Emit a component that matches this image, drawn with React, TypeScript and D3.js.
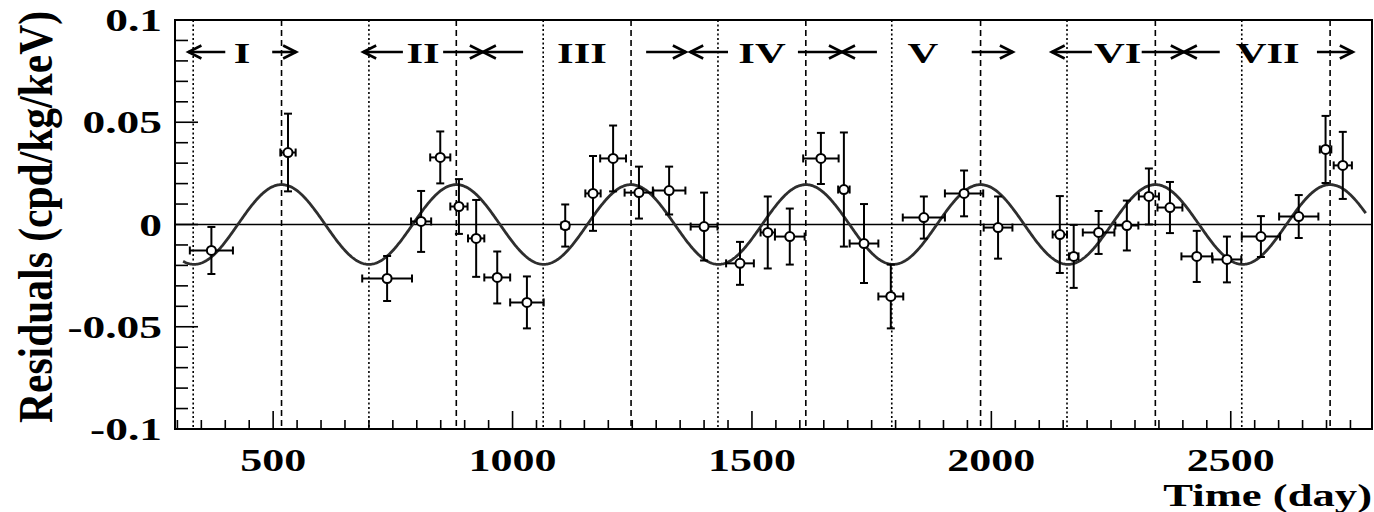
import React from "react";
import * as d3 from "d3";

// ---- data ----
const days = [371, 531, 738, 809, 849, 888, 924, 968, 1030, 1110, 1168, 1210, 1264, 1327, 1400, 1475, 1533, 1579, 1644, 1692, 1734, 1790, 1859, 1943, 2014, 2143, 2172, 2224, 2283, 2329, 2373, 2429, 2492, 2563, 2642, 2698, 2734];
const residuals = [-0.0127, 0.0352, -0.0264, 0.0015, 0.0328, 0.0088, -0.0068, -0.0259, -0.0381, -0.0005, 0.0152, 0.0323, 0.0156, 0.0166, -0.001, -0.019, -0.0039, -0.0059, 0.0323, 0.0171, -0.0093, -0.0352, 0.0034, 0.0152, -0.0015, -0.0049, -0.0156, -0.0039, -0.0005, 0.0137, 0.0083, -0.0156, -0.0171, -0.0059, 0.0039, 0.0367, 0.0289];
const residualErr = [0.0115, 0.019, 0.011, 0.0149, 0.0127, 0.0134, 0.0188, 0.0127, 0.0127, 0.0103, 0.0183, 0.0161, 0.0127, 0.0117, 0.0166, 0.0105, 0.0176, 0.0137, 0.0125, 0.0279, 0.0193, 0.0156, 0.0103, 0.0112, 0.0152, 0.0188, 0.0154, 0.0105, 0.0122, 0.0137, 0.0125, 0.0125, 0.0112, 0.01, 0.0105, 0.0164, 0.0164];
const dayErr = [45, 16, 52, 21, 21, 18, 17, 27, 35, 8, 16, 27, 30, 34, 28, 29, 15, 31, 37, 12, 30, 26, 44, 40, 30, 15, 10, 33, 24, 21, 26, 32, 30, 40, 41, 12, 19];

// fitted modulation: A cos(2π/T (t - t0))
const fitAmplitude = 0.0195;
const fitPeriod = 365;
const fitPhase = 152.5;
const fitRange = [312, 2782];

const cycleStarts = [333, 700, 1064, 1429, 1792, 2158, 2523]; // dotted lines
const cyclePeaks = [517.5, 882.5, 1247.5, 1612.5, 1977.5, 2342.5, 2707.5]; // dashed lines

const cycleLabels = ["I", "II", "III", "IV", "V", "VI", "VII"];
const cycleLabelDays = [435, 813, 1145, 1521, 1857, 2264, 2577];
// arrows [fromDay, toDay] (head at toDay)
const arrows: [number, number][] = [
  [400, 323], [498, 548],
  [771, 688], [855, 938], [1022, 938],
  [1279, 1362], [1450, 1371],
  [1596, 1688], [1761, 1688],
  [1959, 2045],
  [2210, 2126], [2314, 2402], [2477, 2402],
  [2680, 2755],
];

const xTickLabels = [500, 1000, 1500, 2000, 2500];
const yTickLabels = [0.1, 0.05, 0, -0.05, -0.1];
const yTickText = ["0.1", "0.05", "0", "-0.05", "-0.1"];

const W = 1374;
const H = 512;
const L = 175, R = 1372, T = 20, B = 429;
const FONT = "'Liberation Serif', 'Times New Roman', Tinos, serif";
const SX = 1.42;

export default function App() {
  const x = d3.scaleLinear().domain([295, 2795]).range([L, R]);
  const y = d3.scaleLinear().domain([-0.1, 0.1]).range([B, T]);

  const fitPts = d3.range(fitRange[0], fitRange[1] + 0.01, 2).map((t) => [t, fitAmplitude * Math.cos((2 * Math.PI / fitPeriod) * (t - fitPhase))] as [number, number]);
  const line = d3.line<[number, number]>().x((d) => x(d[0])).y((d) => y(d[1]));

  const xMinor = d3.range(300, 2800, 50);
  const yMinor = d3.range(-10, 11).map((i) => i / 100);

  return (
    <svg width={W} height={H} style={{ position: "absolute", left: 0, top: 0, background: "#fff" }}>
      <rect x={0} y={0} width={W} height={H} fill="#fff" />
      {/* vertical cycle lines */}
      {cycleStarts.map((d, i) => (
        <line key={"s" + i} x1={x(d)} x2={x(d)} y1={T} y2={B} stroke="#000" strokeWidth={1.6} strokeDasharray="2,2.5" />
      ))}
      {cyclePeaks.map((d, i) => (
        <line key={"p" + i} x1={x(d)} x2={x(d)} y1={T} y2={B} stroke="#000" strokeWidth={1.6} strokeDasharray="6,4" />
      ))}
      {/* zero line */}
      <line x1={L} x2={R} y1={y(0)} y2={y(0)} stroke="#000" strokeWidth={1.6} />
      {/* fit */}
      <path d={line(fitPts) || ""} fill="none" stroke="#2e2e2e" strokeWidth={2.8} />
      {/* error bars */}
      {days.map((d, i) => {
        const cx = x(d), cy = y(residuals[i]);
        const y1 = y(residuals[i] + residualErr[i]);
        const y2 = y(residuals[i] - residualErr[i]);
        const x1 = x(d - dayErr[i]);
        const x2 = x(d + dayErr[i]);
        return (
          <g key={"e" + i} stroke="#000" strokeWidth={2}>
            <line x1={cx} x2={cx} y1={y1} y2={y2} />
            <line x1={cx - 4} x2={cx + 4} y1={y1} y2={y1} />
            <line x1={cx - 4} x2={cx + 4} y1={y2} y2={y2} />
            <line x1={x1} x2={x2} y1={cy} y2={cy} />
            <line x1={x1} x2={x1} y1={cy - 4} y2={cy + 4} />
            <line x1={x2} x2={x2} y1={cy - 4} y2={cy + 4} />
            <circle cx={cx} cy={cy} r={4.5} fill="#fff" strokeWidth={2} />
          </g>
        );
      })}
      {/* arrows */}
      {arrows.map(([a, b], i) => {
        const xa = x(a), xb = x(b);
        const dir = xb > xa ? 1 : -1;
        const ay = 52;
        return (
          <g key={"a" + i} stroke="#000" strokeWidth={2.6} fill="none">
            <line x1={xa} x2={xb} y1={ay} y2={ay} />
            <polyline points={`${xb - dir * 13},${ay - 6.5} ${xb},${ay} ${xb - dir * 13},${ay + 6.5}`} />
          </g>
        );
      })}
      {cycleLabels.map((t, i) => (
        <text key={"l" + i} transform={`translate(${x(cycleLabelDays[i])},63) scale(${SX},1)`} textAnchor="middle" fontFamily={FONT} fontWeight="bold" fontSize={30}>
          {t}
        </text>
      ))}
      {/* frame */}
      <rect x={L} y={T} width={R - L} height={B - T} fill="none" stroke="#000" strokeWidth={2} />
      {/* y ticks */}
      {yMinor.map((v, i) => {
        const major = Math.abs(Math.round(v * 100) % 5) === 0;
        return <line key={"yt" + i} x1={L} x2={L + (major ? 23 : 13)} y1={y(v)} y2={y(v)} stroke="#000" strokeWidth={1.6} />;
      })}
      {/* x ticks */}
      {xMinor.map((v, i) => {
        const major = v % 500 === 0;
        return <line key={"xt" + i} x1={x(v)} x2={x(v)} y1={B} y2={B - (major ? 18 : 9)} stroke="#000" strokeWidth={1.6} />;
      })}
      {/* y tick labels */}
      {yTickLabels.map((v, i) => (
        <text key={"yl" + i} transform={`translate(162,${y(v) + 11}) scale(${SX},1)`} textAnchor="end" fontFamily={FONT} fontWeight="bold" fontSize={32}>
          {yTickText[i]}
        </text>
      ))}
      {/* x tick labels */}
      {xTickLabels.map((v, i) => (
        <text key={"xl" + i} transform={`translate(${x(v)},471) scale(${SX},1)`} textAnchor="middle" fontFamily={FONT} fontWeight="bold" fontSize={31}>
          {v}
        </text>
      ))}
      {/* axis titles */}
      <text transform={`translate(1372,506) scale(${SX + 0.02},1)`} textAnchor="end" fontFamily={FONT} fontWeight="bold" fontSize={31}>
        Time (day)
      </text>
      <text transform={`translate(52,217) rotate(-90) scale(1,1.3)`} textAnchor="middle" fontFamily={FONT} fontWeight="bold" fontSize={38} textLength={412} lengthAdjust="spacingAndGlyphs">
        Residuals (cpd/kg/keV)
      </text>
    </svg>
  );
}
